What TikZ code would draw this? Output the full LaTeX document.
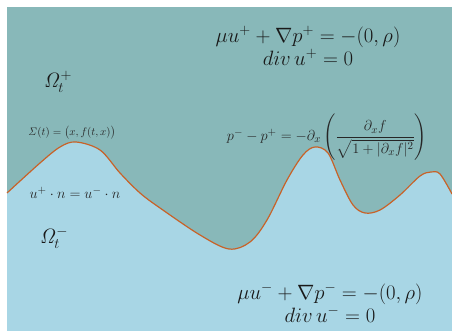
\documentclass[tikz,border=0pt]{standalone}
\usepackage{amsmath}
\usepackage{amssymb}
\usepackage{tikz}

\definecolor{upperfluid}{RGB}{136,184,185}
\definecolor{lowerfluid}{RGB}{168,214,229}
\definecolor{interface}{RGB}{200,98,40}

\begin{document}
\begin{tikzpicture}[x=1pt,y=-1pt]
% Styles ---
\tikzstyle{eqn} = [align=center, inner sep=0pt, text=black!90, font=\fontsize{20}{23}\selectfont] % Equations in each fluid
\tikzstyle{dom} = [inner sep=0pt, text=black!90, font=\fontsize{20}{22}\selectfont] % Domain names
\tikzstyle{cond} = [inner sep=0pt, text=black!85, font=\fontsize{15}{17}\selectfont] % Conditions on the interface
\tikzstyle{iface} = [draw=interface, line width=1.2pt, line join=round] % Interface
% Begin Figure ---
\useasboundingbox (0,0) rectangle (452,331);
% Regions
\fill[upperfluid] (7,7) rectangle (452,331);
\fill[lowerfluid] (7,331) -- plot[smooth, tension=0.55] coordinates {(7,193) (40,163) (60,147) (76,142) (100,150) (120,173) (140,193) (160,208) (200,235) (229,249) (250,242) (267,220) (287,180) (303,155) (315,147) (328,153) (340,180) (353,205) (365,213) (380,210) (400,195) (420,176) (431,172) (440,174) (452,194)} -- (452,331) -- cycle;
\draw[iface] plot[smooth, tension=0.55] coordinates {(7,193) (40,163) (60,147) (76,142) (100,150) (120,173) (140,193) (160,208) (200,235) (229,249) (250,242) (267,220) (287,180) (303,155) (315,147) (328,153) (340,180) (353,205) (365,213) (380,210) (400,195) (420,176) (431,172) (440,174) (452,194)};
% Nodes
\node at (308,46) [eqn] (eqplus) {$\mu u^{+} + \nabla p^{+} = -(0,\rho)$\\ $div\, u^{+} = 0$};
\node at (330,303) [eqn] (eqminus) {$\mu u^{-} + \nabla p^{-} = -(0,\rho)$\\ $div\, u^{-} = 0$};
\node at (58,82) [dom] (omplus) {$\mathit{\Omega}_t^{+}$};
\node at (54,238) [dom] (omminus) {$\mathit{\Omega}_t^{-}$};
\node at (72,133) [cond, font=\fontsize{11}{13}\selectfont] (sigma) {$\mathit{\Sigma}(t) = \bigl(x, f(t,x)\bigr)$};
\node at (75,193) [cond] (normal) {$u^{+}\cdot n = u^{-}\cdot n$};
\node at (327,137) [cond, font=\fontsize{15.5}{17}\selectfont] (jump) {$p^{-} - p^{+} = -\partial_x \left(\dfrac{\partial_x f}{\sqrt{1+|\partial_x f|^2}}\right)$};
\end{tikzpicture}
\end{document}
